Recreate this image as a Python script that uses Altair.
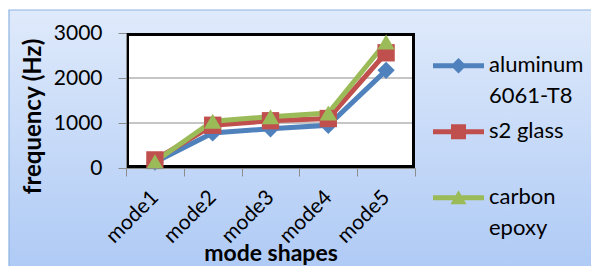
import altair as alt
import pandas as pd

modes = ["mode1", "mode2", "mode3", "mode4", "mode5"]
series_names = ["aluminum 6061-T8", "s2 glass", "carbon epoxy"]
aluminum = [130, 780, 870, 950, 2170]
s2_glass = [180, 950, 1050, 1100, 2560]
carbon_epoxy = [140, 1040, 1140, 1220, 2800]
y_ticks = [0, 1000, 2000, 3000]
grid_values = [1000, 2000]

colors = ["#4f81bd", "#c0504d", "#9bbb59"]
marker_shapes = ["diamond", "square", "triangle-up"]
# legend symbols: line segment + marker, in a 20px box (1 unit = 10px),
# shifted down so they sit on the first line of each label
legend_paths = [
    "M-2.55,0.83H2.55V1.33H-2.55Z M0,0.3L0.78,1.08L0,1.86L-0.78,1.08Z",
    "M-2.55,0.83H2.55V1.33H-2.55Z M-0.75,0.33H0.75V1.83H-0.75Z",
    "M-2.55,0.83H2.55V1.33H-2.55Z M0,0.33L0.8,1.73H-0.8Z",
]

rows = []
for name, vals in zip(series_names, [aluminum, s2_glass, carbon_epoxy]):
    for m, v in zip(modes, vals):
        rows.append({"mode": m, "freq": v, "series": name, "legend_series": name})
df = pd.DataFrame(rows)
grid_df = pd.DataFrame({"g": grid_values})

W, H = 289, 135
FONT = "Lato"

x_enc = alt.X(
    "mode:N",
    sort=modes,
    bandPosition=0.5,
    scale=alt.Scale(type="band", domain=modes, paddingInner=0, paddingOuter=0),
    axis=alt.Axis(
        title="mode shapes",
        titleFontSize=23,
        titleFontWeight="bold",
        titleFont=FONT,
        titleColor="black",
        titleY=92,
        titleBaseline="alphabetic",
        labelAngle=-45,
        labelAlign="right",
        labelBaseline="middle",
        labelFontSize=21,
        labelFont=FONT,
        labelColor="black",
        labelPadding=18,
        tickBand="extent",
        tickColor="#8c8c8c",
        tickSize=8,
        domain=True,
        domainColor="#8c8c8c",
        grid=False,
        zindex=1,
    ),
)
y_enc = alt.Y(
    "freq:Q",
    scale=alt.Scale(domain=[0, 3000], nice=False),
    axis=alt.Axis(
        title="frequency (Hz)",
        titleFontSize=24,
        titleFontWeight="bold",
        titleFont=FONT,
        titleColor="black",
        titleX=-93,
        titleY=83,
        titleBaseline="middle",
        values=y_ticks,
        format="d",
        labelFontSize=21,
        labelFont=FONT,
        labelColor="black",
        labelPadding=16,
        tickColor="#8c8c8c",
        tickSize=8,
        domain=True,
        domainColor="#8c8c8c",
        grid=False,
        zindex=1,
    ),
)

bg = alt.Chart(pd.DataFrame({"a": [0]})).mark_rect(
    fill=alt.Gradient(
        gradient="linear",
        stops=[alt.GradientStop(color="#dfeafb", offset=0),
               alt.GradientStop(color="#adc9f5", offset=1)],
        x1=0, x2=0, y1=0, y2=1,
    ),
    stroke="#8db3e2",
    strokeWidth=1.2,
).encode(
    x=alt.value(-117), x2=alt.value(W + 190),
    y=alt.value(-23), y2=alt.value(H + 110),
)

plot_bg = alt.Chart(pd.DataFrame({"a": [0]})).mark_rect(
    fill="white", stroke="black", strokeWidth=3
).encode(x=alt.value(1.5), x2=alt.value(W - 1.5), y=alt.value(1.5), y2=alt.value(H - 1.5))

grid = alt.Chart(grid_df).mark_rule(color="#8c8c8c", strokeWidth=1).encode(
    y=alt.Y("g:Q", scale=alt.Scale(domain=[0, 3000], nice=False)),
    x=alt.value(3), x2=alt.value(W - 3),
)

color_scale = alt.Scale(domain=series_names, range=colors)

lines = alt.Chart(df).mark_line(strokeWidth=5).encode(
    x=x_enc, y=y_enc,
    color=alt.Color("series:N", scale=color_scale, legend=None),
    detail="series:N",
)
points = alt.Chart(df).mark_point(filled=True, size=300, opacity=1).encode(
    x=x_enc, y=y_enc,
    color=alt.Color("series:N", scale=color_scale, legend=None),
    shape=alt.Shape("series:N", scale=alt.Scale(domain=series_names, range=marker_shapes), legend=None),
)

main = alt.layer(bg, plot_bg, grid, lines, points)

def make_legend():
    return alt.Legend(
        title=None,
        orient="none",
        legendX=321.5,
        legendY=11,
        symbolSize=400,
        symbolOpacity=1,
        symbolStrokeWidth=0,
        labelFontSize=22,
        labelFont=FONT,
        labelColor="black",
        labelOffset=19.5,
        labelLimit=200,
        rowPadding=3,
        gridAlign="all",
        labelBaseline="top",
        labelExpr="datum.label == 'aluminum 6061-T8' ? ['aluminum', '6061-T8'] : datum.label == 'carbon epoxy' ? ['carbon', 'epoxy'] : datum.label",
    )

legend_layer = alt.Chart(df).mark_point(filled=True, size=10, opacity=0).encode(
    x=x_enc, y=y_enc,
    color=alt.Color("legend_series:N", scale=alt.Scale(domain=series_names, range=colors),
                    legend=make_legend()),
    shape=alt.Shape("legend_series:N", scale=alt.Scale(domain=series_names, range=legend_paths),
                    legend=make_legend()),
)

chart = alt.layer(main, legend_layer).resolve_scale(
    color="independent", shape="independent"
).properties(
    width=W, height=H,
    autosize=alt.AutoSizeParams(type="none"),
    padding={"left": 118, "top": 25, "right": 176, "bottom": 98},
    background="white",
).configure_view(stroke=None).configure(
    style={"guide-label": alt.MarkConfig(lineHeight=31)}
)

chart.save("out.html", embed_options={"renderer": "svg", "actions": False})
